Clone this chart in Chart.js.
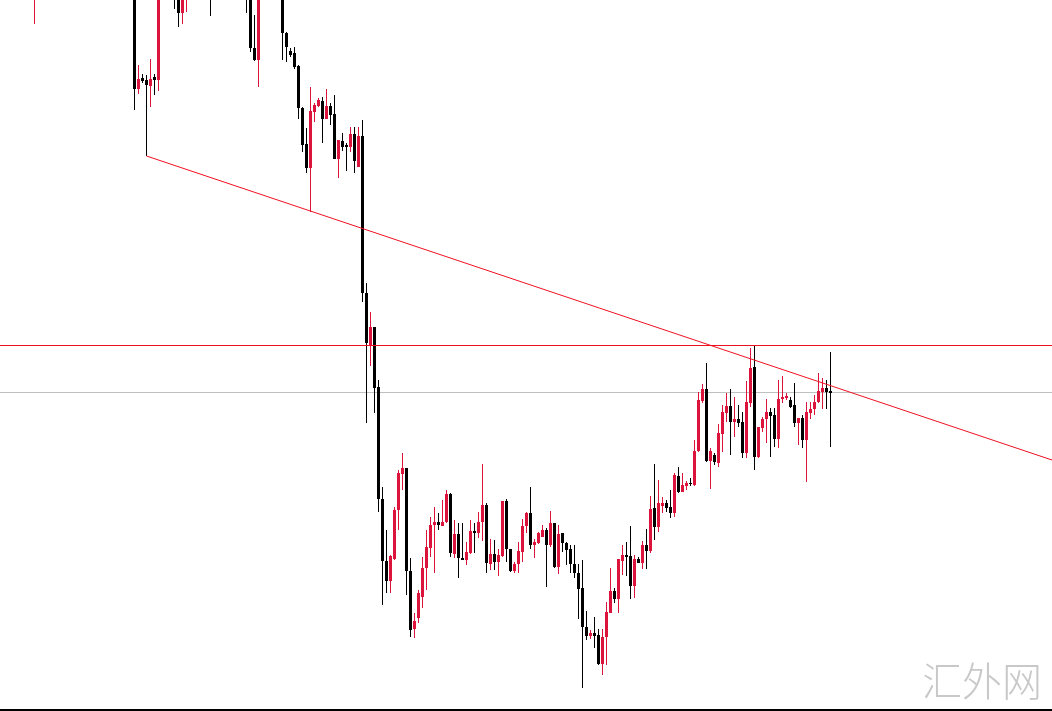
<!DOCTYPE html>
<html>
<head>
<meta charset="utf-8">
<script src="https://cdn.jsdelivr.net/npm/chart.js@4.4.0/dist/chart.umd.min.js"></script>
<style>
	html, body { margin: 0; padding: 0; background: #fff; }
	#wrap { position: relative; width: 1052px; height: 709px; border-bottom: 2px solid #000; }
	#mark {
		position: absolute; left: 922px; top: 659px;
		font: 300 40px "Noto Sans CJK SC", sans-serif; line-height: 40px;
		color: #c8c8c8; white-space: nowrap;
	}
</style>
</head>
<body>
<div id="wrap">
	<canvas id="chart" width="1052" height="709"></canvas>
	<div id="mark">汇外网</div>
</div>
<script>
// --- Candle data (one entry per bar, null = bar above the visible window) ---
const opens = [
	null, null, null, null, null, null, null, null, 2010, null,
	null, null, null, null, null, null, null, null, null, null,
	null, null, null, null, null, null, null, null, null, null,
	null, null, null, 2030, 1911, 1922, 1920, 1914, 1923, 1920,
	null, null, null, 2030, 2015, 1987, 2005, null, null, null,
	null, null, 2025, null, null, null, null, null, null, null,
	null, 2030, 2010, 1952, 1940, null, null, null, null, null,
	2015, 1967, 1949, 1947, 1934, 1892, 1856, 1832, 1888, 1894,
	1899, 1881, 1894, 1886, 1841, 1859, 1855, 1853, 1866, 1833,
	1864, 1707, 1655, 1673, 1613, 1501, 1439, 1419, 1441, 1490,
	1526, 1532, 1429, 1371, 1382, 1403, 1432, 1452, 1475, 1478,
	1474, 1478, 1506, 1446, 1466, 1442, 1440, 1447, 1469, 1467,
	1478, 1495, 1436, 1446, 1438, 1444, 1499, 1451, 1429, 1436,
	1448, 1474, 1487, 1455, 1457, 1463, 1470, 1455, 1477, 1433,
	1467, 1457, 1451, 1436, 1427, 1412, 1373, 1364, 1367, 1365,
	1336, 1363, 1387, 1409, 1401, 1439, 1445, 1444, 1414, 1441,
	1437, 1455, 1449, 1492, 1473, 1494, 1497, 1493, 1487, 1524,
	1508, 1514, 1517, 1515, 1549, 1599, 1611, 1539, 1545, 1537,
	1566, 1587, 1594, 1578, 1581, 1578, 1547, 1597, 1633, 1543,
	1572, 1581, 1588, 1585, 1561, 1601, 1602, 1600, 1595, 1577,
	1582, 1560, 1587, 1591, 1598, 1608, 1612, 1609,
];
const highs = [
	null, null, null, null, null, null, null, null, 2035, null,
	null, null, null, null, null, null, null, null, null, null,
	null, null, null, null, null, null, null, null, null, null,
	null, null, null, 2040, 1935, 1926, 1925, 1941, 1926, 2020,
	null, null, null, 2040, 2025, 2020, 2030, null, null, null,
	null, null, 2035, null, null, null, null, null, null, null,
	null, 2040, 2020, 1985, 2020, null, null, null, null, null,
	2025, 1968, 1952, 1953, 1935, 1893, 1872, 1913, 1897, 1902,
	1903, 1911, 1897, 1905, 1860, 1867, 1857, 1873, 1873, 1873,
	1880, 1717, 1688, 1673, 1620, 1513, 1470, 1445, 1493, 1530,
	1547, 1532, 1442, 1387, 1410, 1443, 1470, 1483, 1493, 1487,
	1500, 1510, 1507, 1480, 1477, 1477, 1458, 1480, 1477, 1488,
	1536, 1497, 1461, 1460, 1451, 1499, 1501, 1451, 1438, 1458,
	1481, 1488, 1513, 1461, 1468, 1475, 1472, 1489, 1477, 1475,
	1467, 1458, 1455, 1455, 1436, 1440, 1389, 1370, 1383, 1371,
	1371, 1398, 1432, 1412, 1441, 1455, 1458, 1474, 1445, 1443,
	1459, 1471, 1504, 1536, 1520, 1503, 1500, 1510, 1527, 1533,
	1527, 1519, 1522, 1560, 1608, 1616, 1637, 1552, 1547, 1576,
	1595, 1607, 1611, 1603, 1595, 1588, 1619, 1652, 1655, 1573,
	1583, 1601, 1592, 1592, 1620, 1624, 1607, 1603, 1617, 1582,
	1585, 1598, 1598, 1605, 1627, 1622, 1620, 1648,
];
const lows = [
	null, null, null, null, null, null, null, null, 1976, null,
	null, null, null, null, null, null, null, null, null, null,
	null, null, null, null, null, null, null, null, null, null,
	null, null, null, 1890, 1906, 1917, 1844, 1893, 1905, 1909,
	null, null, null, 1991, 1973, 1976, 1988, null, null, null,
	null, null, 1984, null, null, null, null, null, null, null,
	null, 1987, 1948, 1939, 1913, null, null, null, null, null,
	1940, 1938, 1943, 1931, 1881, 1848, 1827, 1788, 1878, 1893,
	1857, 1881, 1875, 1841, 1822, 1849, 1829, 1848, 1827, 1833,
	1698, 1577, 1634, 1587, 1488, 1395, 1407, 1407, 1440, 1470,
	1510, 1405, 1363, 1362, 1377, 1392, 1410, 1443, 1427, 1470,
	1474, 1477, 1443, 1442, 1422, 1440, 1435, 1446, 1447, 1462,
	1459, 1427, 1430, 1430, 1424, 1443, 1438, 1428, 1427, 1427,
	1438, 1467, 1451, 1442, 1456, 1463, 1413, 1453, 1432, 1426,
	1448, 1435, 1427, 1422, 1381, 1312, 1360, 1361, 1352, 1335,
	1325, 1335, 1387, 1397, 1387, 1425, 1424, 1401, 1402, 1437,
	1431, 1431, 1447, 1460, 1468, 1487, 1488, 1482, 1483, 1507,
	1508, 1510, 1514, 1514, 1548, 1597, 1538, 1511, 1535, 1533,
	1548, 1578, 1545, 1563, 1573, 1542, 1542, 1593, 1530, 1542,
	1568, 1557, 1543, 1553, 1552, 1597, 1600, 1592, 1573, 1555,
	1552, 1518, 1581, 1585, 1597, 1591, 1591, 1553,
];
const closes = [
	null, null, null, null, null, null, null, null, 2025, null,
	null, null, null, null, null, null, null, null, null, null,
	null, null, null, null, null, null, null, null, null, null,
	null, null, null, 1911, 1921, 1919, 1915, 1921, 1920, 2010,
	null, null, null, 2010, 1987, 2012, 2020, null, null, null,
	null, null, 2005, null, null, null, null, null, null, null,
	null, 2010, 1952, 1940, 2010, null, null, null, null, null,
	1967, 1953, 1945, 1933, 1892, 1855, 1832, 1889, 1895, 1900,
	1881, 1894, 1885, 1841, 1860, 1853, 1853, 1866, 1839, 1864,
	1707, 1657, 1673, 1612, 1501, 1439, 1419, 1444, 1490, 1527,
	1532, 1429, 1370, 1379, 1407, 1432, 1453, 1475, 1478, 1475,
	1478, 1506, 1447, 1466, 1442, 1440, 1448, 1469, 1467, 1478,
	1495, 1437, 1446, 1438, 1445, 1499, 1451, 1429, 1436, 1449,
	1474, 1487, 1455, 1458, 1467, 1470, 1455, 1477, 1433, 1466,
	1457, 1450, 1436, 1427, 1411, 1373, 1364, 1367, 1364, 1336,
	1363, 1388, 1409, 1401, 1441, 1445, 1443, 1414, 1441, 1437,
	1455, 1449, 1491, 1473, 1497, 1497, 1492, 1487, 1525, 1508,
	1515, 1517, 1516, 1549, 1600, 1611, 1539, 1549, 1538, 1567,
	1588, 1594, 1578, 1581, 1577, 1547, 1598, 1632, 1543, 1573,
	1581, 1588, 1584, 1561, 1601, 1603, 1604, 1593, 1577, 1582,
	1560, 1588, 1591, 1598, 1609, 1612, 1608, 1607,
];

// --- Drawn objects ---
const resistanceLevel = 1654.5; // red horizontal line
const bidLevel = 1607.5; // grey price line
const trendStartBar = 36;
const trendStartPrice = 1844;
const trendEndPrice = 1540; // price at right edge

// --- Visible window ---
const X_MIN = -0.625;
const X_MAX = 262.375;
const Y_MIN = 1291;
const Y_MAX = 2000;

const UP_COLOR = "#dc143c";
const DOWN_COLOR = "#000000";
const LINE_RED = "#ee1020";

function pairs(a, b) {
	const out = [];
	for (let i = 0; i < opens.length; i++) {
		if (opens[i] == null) continue;
		out.push({ x: i, y: [a[i], b[i]] });
	}
	return out;
}

const bodies = pairs(opens, closes);
const wicks = pairs(lows, highs);
const candleColors = bodies.map((p) => (closes[p.x] >= opens[p.x] ? UP_COLOR : DOWN_COLOR));

function barSet(data, thickness) {
	return {
		type: "bar",
		data: data,
		backgroundColor: (ctx) => candleColors[ctx.dataIndex],
		borderWidth: 0,
		barThickness: thickness,
		minBarLength: 1,
		inflateAmount: 0,
		grouped: false,
		order: 2,
	};
}

function lineSet(data, color, order) {
	return {
		type: "line",
		data: data,
		borderColor: color,
		borderWidth: 1,
		pointRadius: 0,
		fill: false,
		tension: 0,
		order: order,
	};
}

new Chart(document.getElementById("chart").getContext("2d"), {
	type: "bar",
	data: {
		datasets: [
			lineSet([{ x: X_MIN, y: bidLevel }, { x: X_MAX, y: bidLevel }], "#c0c0c0", 3),
			barSet(wicks, 1),
			barSet(bodies, 3),
			lineSet([{ x: X_MIN, y: resistanceLevel }, { x: X_MAX, y: resistanceLevel }], LINE_RED, 1),
			lineSet([{ x: trendStartBar, y: trendStartPrice }, { x: X_MAX, y: trendEndPrice }], LINE_RED, 1),
		],
	},
	options: {
		responsive: false,
		animation: false,
		events: [],
		layout: { padding: 0, autoPadding: false },
		plugins: { legend: { display: false }, tooltip: { enabled: false } },
		scales: {
			x: { type: "linear", min: X_MIN, max: X_MAX, offset: false, display: false },
			y: { min: Y_MIN, max: Y_MAX, display: false },
		},
	},
});
</script>
</body>
</html>
